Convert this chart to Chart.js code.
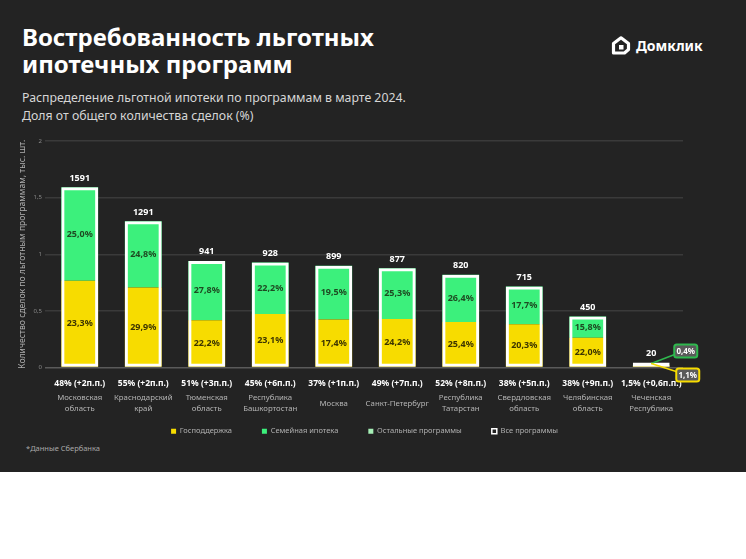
<!DOCTYPE html>
<html>
<head>
<meta charset="utf-8">
<script src="https://cdn.jsdelivr.net/npm/chart.js@4.4.1/dist/chart.umd.min.js"></script>
<style>
    html, body {margin: 0; padding: 0; background: #ffffff;}
    #page {position: relative; width: 746px; height: 559px; background: #ffffff; overflow: hidden;}
    #dark {position: absolute; left: 0; top: 0; width: 746px; height: 472px; background: #232323;}
    #title {position: absolute; left: 22px; top: 23px; color: #ffffff; font: bold 24px "Noto Sans", sans-serif; line-height: 27px;}
    #subtitle {position: absolute; left: 22px; top: 89px; color: #d6d6d6; font: 12.3px "Noto Sans", sans-serif; line-height: 18px;}
    #logo {position: absolute; left: 611px; top: 35px; height: 20px; display: flex; align-items: center;}
    #logo span {color: #ffffff; font: bold 14px "Noto Sans", sans-serif; margin-left: 5px;}
    #footnote {position: absolute; left: 26px; top: 443px; color: #a8a8a8; font: 7.5px "Noto Sans", sans-serif;}
    #wrap {position: absolute; left: 0; top: 130px; width: 746px; height: 342px;}
</style>
</head>
<body>
<div id="page">
    <div id="dark"></div>
    <div id="title">Востребованность льготных<br>ипотечных программ</div>
    <div id="subtitle">Распределение льготной ипотеки по программам в марте 2024.<br>Доля от общего количества сделок (%)</div>
    <div id="logo">
        <svg width="20" height="19" viewBox="0 0 20 19">
            <path d="M2.5 17 V7.5 L10 1.8 L17.5 7.5 V13.5 L13.5 17 Z" fill="none" stroke="#ffffff" stroke-width="3.2" stroke-linejoin="round"/>
            <rect x="8" y="9" width="4.5" height="4.5" fill="#ffffff"/>
        </svg>
        <span>Домклик</span>
    </div>
    <div id="footnote">*Данные Сбербанка</div>
    <div id="wrap"><canvas id="chart"></canvas></div>
</div>
<script>
// values (deals, thousands)
const shareLabels = ['48% (+2п.п.)', '55% (+2п.п.)', '51% (+3п.п.)', '45% (+6п.п.)', '37% (+1п.п.)',
    '49% (+7п.п.)', '52% (+8п.п.)', '38% (+5п.п.)', '38% (+9п.п.)', '1,5% (+0,6п.п.)'];
const regions = [['Московская', 'область'], ['Краснодарский', 'край'], ['Тюменская', 'область'],
    ['Республика', 'Башкортостан'], 'Москва', 'Санкт-Петербург', ['Республика', 'Татарстан'],
    ['Свердловская', 'область'], ['Челябинская', 'область'], ['Чеченская', 'Республика']];
const totalDeals = [1591, 1291, 941, 928, 899, 877, 820, 715, 450, 20];
const govSupport = [0.767, 0.706, 0.418, 0.473, 0.424, 0.429, 0.402, 0.382, 0.262, 0.015];
const familyMortgage = [0.824, 0.585, 0.523, 0.455, 0.475, 0.448, 0.418, 0.333, 0.188, 0.005];
const otherPrograms = [0, 0, 0, 0, 0, 0, 0, 0, 0, 0];
const govPct = [23.3, 29.9, 22.2, 23.1, 17.4, 24.2, 25.4, 20.3, 22.0, 1.1];
const familyPct = [25.0, 24.8, 27.8, 22.2, 19.5, 25.3, 26.4, 17.7, 15.8, 0.4];
const yTicks = [0, 0.5, 1, 1.5, 2];

const YELLOW = '#f7dc00';
const GREEN = '#3cf07c';
const LIGHT_GREEN = '#a6efb6';
const fmt = v => v.toFixed(1).replace('.', ',') + '%';
const FONT = '"Noto Sans", sans-serif';

const barLabels = {
    id: 'barLabels',
    afterLayout(chart) {
        // pull the legend up under the region names (padding is used for item spacing)
        chart.legend.top -= 22;
        chart.legend.bottom -= 22;
        chart.legend.left += 23;
        chart.legend.right += 23;
    },
    afterDatasetsDraw(chart) {
        const ctx = chart.ctx;
        const govMeta = chart.getDatasetMeta(0);
        const famMeta = chart.getDatasetMeta(1);
        const totMeta = chart.getDatasetMeta(3);
        ctx.save();
        ctx.textAlign = 'center';
        ctx.textBaseline = 'middle';
        totalDeals.forEach((t, i) => {
            const top = totMeta.data[i];
            ctx.fillStyle = '#ffffff';
            ctx.font = 'bold 9px ' + FONT;
            ctx.fillText(String(t), top.x, top.y - 9);
            if (i === totalDeals.length - 1) return;
            const g = govMeta.data[i], f = famMeta.data[i];
            ctx.font = 'bold 9px ' + FONT;
            ctx.fillStyle = '#1e4a22';
            ctx.fillText(fmt(familyPct[i]), f.x, (f.y + f.base) / 2);
            ctx.fillStyle = '#3d3500';
            ctx.fillText(fmt(govPct[i]), g.x, (g.y + g.base) / 2);
        });

        // callouts for the small bar
        const last = totalDeals.length - 1;
        const b = totMeta.data[last];
        const drawBox = (x, y, text, color) => {
            const w = 23, h = 13, r = 2.5;
            ctx.beginPath();
            ctx.roundRect(x, y, w, h, r);
            ctx.fillStyle = '#5a5a5a';
            ctx.fill();
            ctx.lineWidth = 2;
            ctx.strokeStyle = color;
            ctx.stroke();
            ctx.fillStyle = '#ffffff';
            ctx.font = 'bold 8px ' + FONT;
            ctx.fillText(text, x + w / 2, y + h / 2 + 0.5);
        };
        ctx.lineWidth = 1.5;
        ctx.strokeStyle = '#2fb84e';
        ctx.beginPath();
        ctx.moveTo(b.x, b.y + 1);
        ctx.lineTo(b.x + 26, b.y - 9);
        ctx.stroke();
        ctx.strokeStyle = YELLOW;
        ctx.beginPath();
        ctx.moveTo(b.x, b.y + 1);
        ctx.lineTo(b.x + 28, b.y + 10);
        ctx.stroke();
        drawBox(b.x + 23, b.y - 18, fmt(familyPct[last]), '#2fb84e');
        drawBox(b.x + 25, b.y + 6, fmt(govPct[last]), YELLOW);
        ctx.restore();
    }
};

new Chart(document.getElementById('chart'), {
    type: 'bar',
    data: {
        labels: shareLabels,
        datasets: [
            {label: 'Господдержка', data: govSupport, backgroundColor: YELLOW, stack: 's', order: 1},
            {label: 'Семейная ипотека', data: familyMortgage, backgroundColor: GREEN, stack: 's', order: 1},
            {label: 'Остальные программы', data: otherPrograms, backgroundColor: LIGHT_GREEN, stack: 's', order: 1},
            {
                label: 'Все программы', data: totalDeals.map(v => v / 1000),
                backgroundColor: 'rgba(0,0,0,0)', borderColor: '#ffffff', borderWidth: 3,
                borderSkipped: false, minBarLength: 5, stack: 't', order: 0
            }
        ]
    },
    options: {
        responsive: true,
        maintainAspectRatio: false,
        animation: false,
        datasets: {bar: {grouped: false, barPercentage: 0.58, categoryPercentage: 1}},
        layout: {padding: {left: 0, right: 63, top: 11, bottom: 5}},
        scales: {
            x: {
                stacked: true,
                grid: {display: false, drawTicks: false},
                border: {display: false},
                ticks: {color: '#ffffff', font: {family: FONT, size: 8.5, weight: 'bold'}, padding: 11, maxRotation: 0, autoSkip: false},
                afterFit: s => { s.height = 22; }
            },
            x2: {
                type: 'category',
                position: 'bottom',
                labels: regions,
                weight: 1,
                grid: {display: false, drawTicks: false},
                border: {display: false},
                ticks: {color: '#b4b4b4', font: {family: FONT, size: 7.8, lineHeight: 1.5}, padding: 8, crossAlign: 'center', maxRotation: 0, autoSkip: false},
                afterFit: s => { s.height = 30; }
            },
            y: {
                stacked: true,
                min: 0,
                max: 2,
                afterBuildTicks: s => { s.ticks = yTicks.map(v => ({value: v})); },
                grid: {
                    color: c => c.tick && c.tick.value === 0 ? '#5a5a5a' : '#3a3a3a',
                    lineWidth: 1.5,
                    tickLength: 3
                },
                border: {display: false},
                ticks: {
                    color: '#8a8a8a', font: {family: FONT, size: 6}, padding: 3,
                    callback: v => String(v).replace('.', ',')
                },
                title: {
                    display: true,
                    text: 'Количество сделок по льготным программам, тыс. шт.',
                    color: '#b0b0b0',
                    font: {family: FONT, size: 8.6},
                    padding: {top: 17, bottom: 0}
                },
                afterFit: s => { s.width = 48; }
            }
        },
        plugins: {
            legend: {
                position: 'bottom',
                labels: {
                    color: '#b0b0b0',
                    font: {family: FONT, size: 7.5},
                    boxWidth: 5,
                    boxHeight: 5,
                    padding: 30,
                    sort: (a, b) => a.datasetIndex - b.datasetIndex,
                    generateLabels: chart => Chart.defaults.plugins.legend.labels.generateLabels(chart).map(item => {
                        if (item.datasetIndex === 3) {
                            item.fillStyle = '#232323';
                            item.strokeStyle = '#ffffff';
                            item.lineWidth = 1.5;
                        } else {
                            item.lineWidth = 0;
                        }
                        return item;
                    })
                }
            },
            tooltip: {enabled: false},
            title: {display: false}
        }
    },
    plugins: [barLabels]
});
</script>
</body>
</html>
